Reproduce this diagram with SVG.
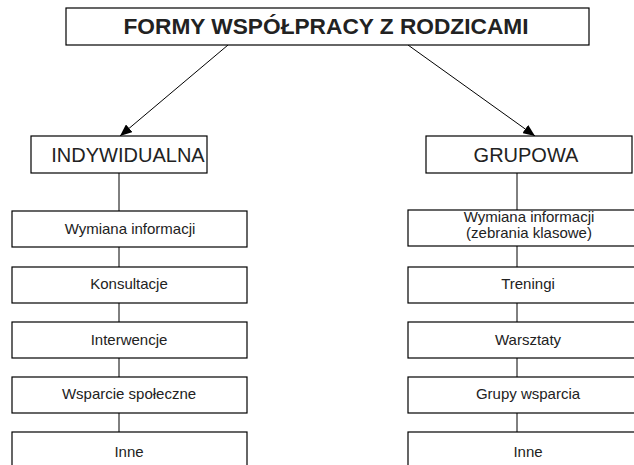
<svg xmlns="http://www.w3.org/2000/svg" width="634" height="465" viewBox="0 0 634 465">
<defs>
<style>
.box{fill:#fff;stroke:#000;stroke-width:1.2}
.t{font-family:"Liberation Sans",Arial,sans-serif;fill:#222;text-anchor:middle}
.s{font-size:15px}
.h{font-size:20px}
.ttl{font-size:22px;font-weight:bold}
.c{stroke:#000;stroke-width:1;fill:none}
</style>
<marker id="ah" viewBox="0 0 12 10" refX="12" refY="5" markerWidth="12" markerHeight="10" markerUnits="userSpaceOnUse" orient="auto">
<path d="M0,0 L12,5 L0,10 Z" fill="#000"/>
</marker>
</defs>
<rect width="634" height="465" fill="#fff"/>
<g id="connectors">
<line class="c" x1="228" y1="45" x2="120" y2="136" marker-end="url(#ah)"/>
<line class="c" x1="408" y1="45" x2="535" y2="136" marker-end="url(#ah)"/>
<line class="c" x1="119" y1="173" x2="119" y2="211"/>
<line class="c" x1="119" y1="247" x2="119" y2="267"/>
<line class="c" x1="119" y1="303" x2="119" y2="322"/>
<line class="c" x1="119" y1="358" x2="119" y2="377"/>
<line class="c" x1="119" y1="413" x2="119" y2="432"/>
<line class="c" x1="517" y1="173" x2="517" y2="210"/>
<line class="c" x1="517" y1="246" x2="517" y2="267"/>
<line class="c" x1="517" y1="303" x2="517" y2="322"/>
<line class="c" x1="517" y1="358" x2="517" y2="377"/>
<line class="c" x1="517" y1="413" x2="517" y2="432"/>
</g>
<g id="title">
<rect class="box" x="66" y="8" width="523" height="37"/>
<text class="t ttl" x="326" y="34" textLength="405" lengthAdjust="spacingAndGlyphs">FORMY WSPÓŁPRACY Z RODZICAMI</text>
</g>
<g id="indywidualna">
<rect class="box" x="31" y="136" width="176" height="37"/>
<text class="t h" x="128" y="162">INDYWIDUALNA</text>
</g>
<g id="grupowa">
<rect class="box" x="426" y="136" width="206" height="37"/>
<text class="t h" x="526" y="162">GRUPOWA</text>
</g>
<g id="l1"><rect class="box" x="12" y="211" width="235" height="36"/><text class="t s" x="130" y="234">Wymiana informacji</text></g>
<g id="l2"><rect class="box" x="12" y="267" width="235" height="36"/><text class="t s" x="129" y="289">Konsultacje</text></g>
<g id="l3"><rect class="box" x="12" y="322" width="235" height="36"/><text class="t s" x="129" y="345">Interwencje</text></g>
<g id="l4"><rect class="box" x="12" y="377" width="235" height="36"/><text class="t s" x="129" y="399">Wsparcie społeczne</text></g>
<g id="l5"><rect class="box" x="12" y="432" width="235" height="40"/><text class="t s" x="129" y="457">Inne</text></g>
<g id="r1"><rect class="box" x="408" y="210" width="240" height="36"/><text class="t s" x="529" y="222">Wymiana informacji</text><text class="t s" x="529" y="238">(zebrania klasowe)</text></g>
<g id="r2"><rect class="box" x="408" y="267" width="240" height="36"/><text class="t s" x="528" y="289">Treningi</text></g>
<g id="r3"><rect class="box" x="408" y="322" width="240" height="36"/><text class="t s" x="528" y="345">Warsztaty</text></g>
<g id="r4"><rect class="box" x="408" y="377" width="240" height="36"/><text class="t s" x="528" y="399">Grupy wsparcia</text></g>
<g id="r5"><rect class="box" x="408" y="432" width="240" height="40"/><text class="t s" x="528" y="457">Inne</text></g>
</svg>
